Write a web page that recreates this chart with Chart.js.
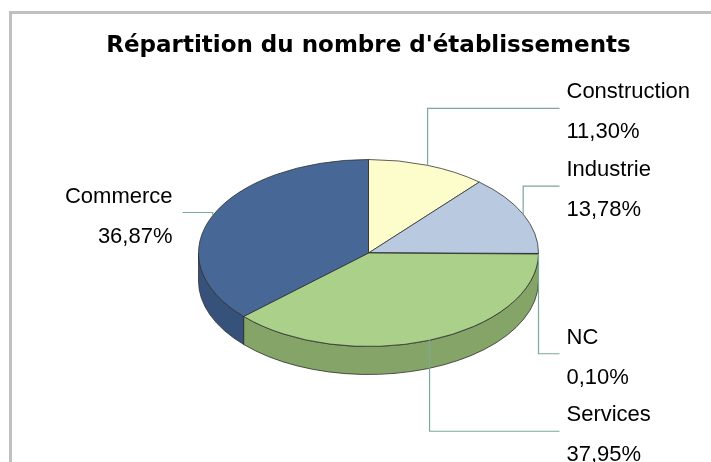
<!DOCTYPE html>
<html>
<head>
<meta charset="utf-8">
<title>Répartition du nombre d'établissements</title>
<script src="https://cdn.jsdelivr.net/npm/chart.js@4.4.1/dist/chart.umd.min.js"></script>
<style>
  html, body { margin: 0; padding: 0; background: #fff; }
  #wrap { position: relative; width: 711px; height: 462px; overflow: hidden; }
  #frame { position: absolute; left: 9px; top: 11px; right: -10px; bottom: -10px;
           border-top: 3px solid #c0c0c0; border-left: 3px solid #c0c0c0; }
  canvas { position: absolute; left: 0; top: 0; }
</style>
</head>
<body>
<div id="wrap">
  <div id="frame"></div>
  <canvas id="chart" width="711" height="462"></canvas>
</div>
<script>
// data
const chartTitle = "Répartition du nombre d'établissements";
const categories = ['Construction', 'Industrie', 'NC', 'Services', 'Commerce'];
const shares = [11.30, 13.78, 0.10, 37.95, 36.87];

// look of the 3D pie
const topColors = ['#fcfdcb', '#b9c9e0', '#8e82b8', '#aad08a', '#476897'];
const sideColors = ['#cfd0a4', '#93a1b5', '#6d6390', '#84a468', '#37527a'];
const tilt = 0.55;      // vertical squash of the disc
const depth = 28;       // thickness of the disc
const labelLift = [-57, -28, 100, 91, -3]; // vertical run of each leader line
const leaderColor = '#7aa89c';
const labelFont = '22px "Liberation Sans", Arial, sans-serif';

const fmtShare = v => v.toFixed(2).replace('.', ',') + '%';

// draws the rim, squashes the disc and adds the leader labels
const pie3d = {
  id: 'pie3d',
  beforeDatasetsDraw(chart) {
    const ctx = chart.ctx;
    const arcs = chart.getDatasetMeta(0).data;
    const { x: cx, y: cy, outerRadius: r } = arcs[0];

    // front wall, only the part facing the viewer (0..PI)
    arcs.forEach((arc, i) => {
      const a1 = Math.max(arc.startAngle, 0);
      const a2 = Math.min(arc.endAngle, Math.PI);
      if (a2 <= a1) return;
      ctx.save();
      ctx.beginPath();
      ctx.ellipse(cx, cy, r, r * tilt, 0, a1, a2);
      ctx.ellipse(cx, cy + depth, r, r * tilt, 0, a2, a1, true);
      ctx.closePath();
      ctx.fillStyle = sideColors[i];
      ctx.fill();
      ctx.lineWidth = 0.8;
      ctx.strokeStyle = '#2f2f2f';
      ctx.stroke();
      ctx.restore();
    });

    ctx.save();
    ctx.translate(cx, cy);
    ctx.scale(1, tilt);
    ctx.translate(-cx, -cy);
  },
  afterDatasetsDraw(chart) {
    const ctx = chart.ctx;
    ctx.restore();

    const arcs = chart.getDatasetMeta(0).data;
    const { x: cx, y: cy, outerRadius: r } = arcs[0];

    ctx.save();
    ctx.font = labelFont;
    ctx.fillStyle = '#000';
    ctx.textBaseline = 'alphabetic';
    arcs.forEach((arc, i) => {
      const mid = (arc.startAngle + arc.endAngle) / 2;
      const ax = cx + r * Math.cos(mid);
      const ay = cy + r * tilt * Math.sin(mid);
      const ly = ay + labelLift[i];
      const right = ax >= cx;
      const ex = right ? cx + r + 21 : cx - r - 16;

      ctx.beginPath();
      ctx.moveTo(ax, ay);
      ctx.lineTo(ax, ly);
      ctx.lineTo(ex, ly);
      ctx.strokeStyle = leaderColor;
      ctx.lineWidth = 1.2;
      ctx.stroke();

      ctx.textAlign = right ? 'left' : 'right';
      const tx = right ? ex + 7 : ex - 10;
      ctx.fillText(categories[i], tx, ly - 10);
      ctx.fillText(fmtShare(shares[i]), tx, ly + 30);
    });
    ctx.restore();
  }
};

new Chart(document.getElementById('chart'), {
  type: 'pie',
  data: {
    labels: categories,
    datasets: [{
      data: shares,
      backgroundColor: topColors,
      borderColor: '#2f2f2f',
      borderWidth: 1,
      radius: 170,
      clip: false
    }]
  },
  options: {
    responsive: false,
    animation: false,
    devicePixelRatio: 1,
    layout: { padding: { left: 26, right: 0, top: 0, bottom: 15.6 } },
    plugins: {
      legend: { display: false },
      tooltip: { enabled: false },
      title: {
        display: true,
        text: chartTitle,
        color: '#000',
        font: { family: '"DejaVu Sans"', size: 23, weight: 'bold' },
        padding: { top: 32, bottom: 0 }
      }
    }
  },
  plugins: [pie3d]
});
</script>
</body>
</html>
